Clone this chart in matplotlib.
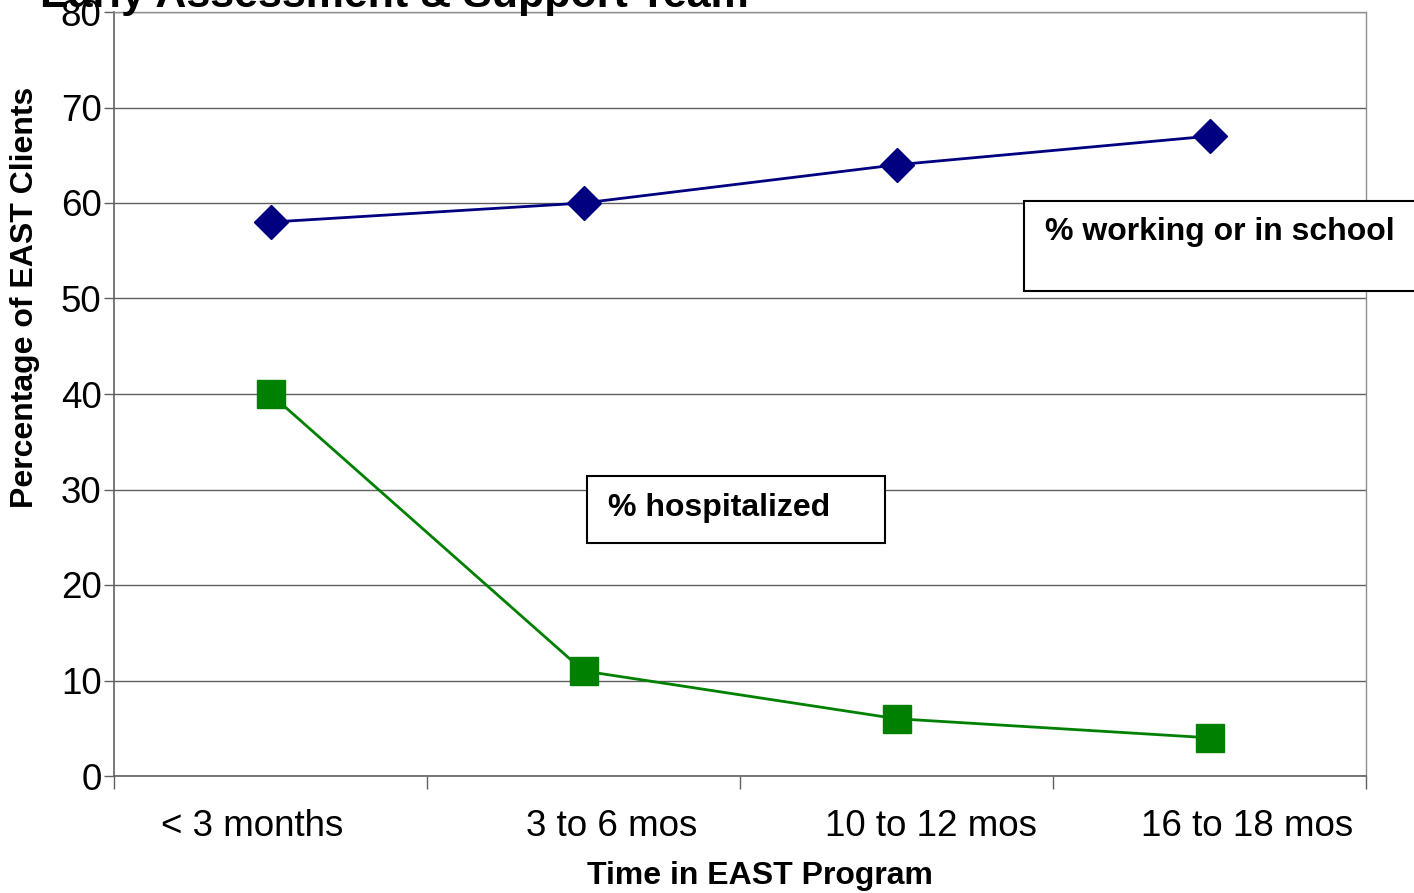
import matplotlib
matplotlib.use("Agg")
import matplotlib.pyplot as plt
from matplotlib.patches import Rectangle

plt.rcParams['font.family'] = ['Liberation Sans', 'DejaVu Sans']

categories = ["< 3 months", "3 to 6 mos", "10 to 12 mos", "16 to 18 mos"]
working_or_school = [58, 60, 64, 67]
hospitalized = [40, 11, 6, 4]
y_ticks = [0, 10, 20, 30, 40, 50, 60, 70, 80]
label_shift = [-0.06, 0.09, 0.11, 0.12]

W, H = 1414, 893
fig = plt.figure(figsize=(W / 100, H / 100), dpi=100)
ax = fig.add_axes([114 / W, 1 - 776 / H, (1366 - 114) / W, (776 - 12) / H])

x = list(range(len(categories)))
ax.plot(x, working_or_school, color="#000080", lw=2, marker="D", ms=17,
        mfc="#000080", mec="#000080", zorder=3, clip_on=False)
ax.plot(x, hospitalized, color="#008000", lw=2, marker="s", ms=20,
        mfc="#008000", mec="#008000", zorder=3, clip_on=False)

ax.set_xlim(-0.5, len(categories) - 0.5)
ax.set_ylim(0, 80)
ax.set_yticks(y_ticks)
ax.set_yticklabels([str(v) for v in y_ticks], fontsize=26.5)
ax.yaxis.grid(True, color="#606060", lw=1)
ax.set_axisbelow(True)

# category boundaries carry the tick marks; labels sit between them
ax.set_xticks([i - 0.5 for i in range(len(categories) + 1)], minor=True)
ax.set_xticks([i + s for i, s in zip(x, label_shift)])
ax.set_xticklabels(categories, fontsize=26.5)
ax.tick_params(axis="x", which="major", length=0, pad=24)
ax.tick_params(axis="x", which="minor", length=9, color="#606060", width=1)
ax.tick_params(axis="y", length=7, color="#606060", width=1, pad=2)

for side in ["left", "bottom"]:
    ax.spines[side].set_color("#606060")
    ax.spines[side].set_linewidth(1.2)
for side in ["top", "right"]:
    ax.spines[side].set_color("#909090")
    ax.spines[side].set_linewidth(1)

ax.set_xlabel("Time in EAST Program", fontsize=23, fontweight="bold", va="center")
ax.xaxis.set_label_coords((760 - 114) / 1252, (776 - 876) / 764)
ax.set_ylabel("Percentage of EAST Clients", fontsize=23, fontweight="bold", va="center")
ax.yaxis.set_label_coords((25 - 114) / 1252, (776 - 297) / 764)

fig.text(40 / W, 1 - 7 / H, "Early Assessment & Support Team", fontsize=31,
         fontweight="bold", ha="left", va="baseline")

# series callout boxes
def callout(x0, y0, x1, y1, text, tx, ty):
    fig.patches.append(Rectangle((x0 / W, 1 - y1 / H), (x1 - x0) / W, (y1 - y0) / H,
                                 transform=fig.transFigure, facecolor="white",
                                 edgecolor="black", lw=1.5, zorder=5))
    fig.text(tx / W, 1 - ty / H, text, fontsize=23, fontweight="bold",
             ha="left", va="center", zorder=6)

callout(1024, 201, 1420, 291, "% working or in school", 1045, 232)
callout(587, 476, 885, 543, "% hospitalized", 608, 508)

fig.savefig("out.png", dpi=100)
